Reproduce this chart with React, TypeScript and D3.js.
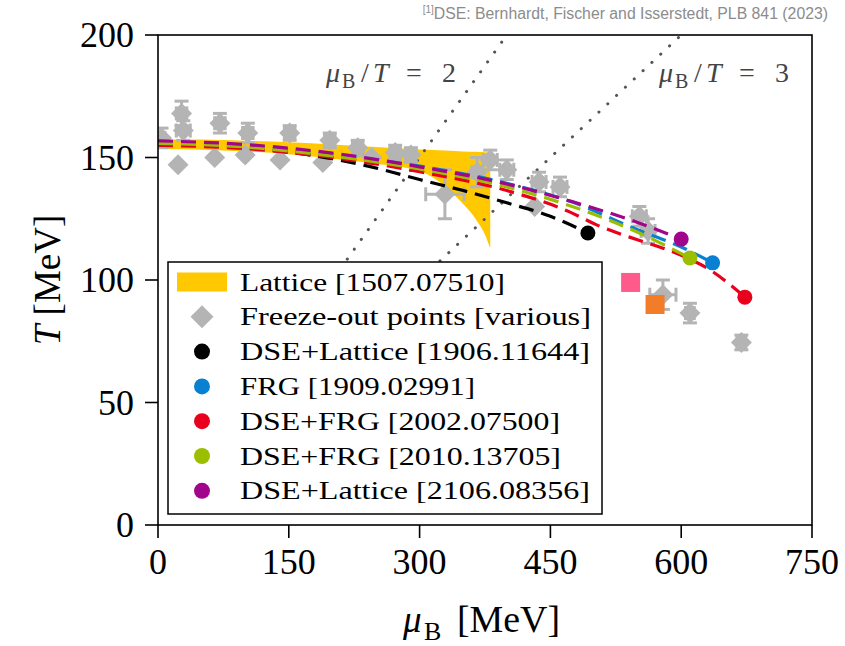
import React from "react";
import * as d3 from "d3";

const W = 845;
const H = 646;

const xTicks = [0, 150, 300, 450, 600, 750];
const yTicks = [0, 50, 100, 150, 200];

// Lattice band [1507.07510]
const latticeMu = [0, 50, 100, 150, 200, 250, 300, 330, 350, 365, 375, 381];
const latticeUpper = [157.5, 157.3, 156.8, 156.2, 155.3, 154.3, 153.3, 152.9, 152.5, 152.3, 152.1, 152];
const latticeLower = [153.5, 153.2, 152.5, 151.3, 149.5, 147.5, 144.5, 138, 131, 124.5, 118.5, 113];

// Crossover lines (dashed) and CEPs
const blackMu = [0, 100, 200, 258, 300, 350, 400, 450, 493];
const blackT = [155.5, 154, 149.5, 145, 141, 136.5, 131.5, 126, 119.2];
const blueMu = [0, 100, 200, 300, 400, 475, 550, 600, 636];
const blueT = [156.2, 154.8, 151.2, 146.5, 139.5, 131.8, 120.5, 113.5, 107];
const redMu = [0, 100, 200, 300, 400, 472, 503, 549, 579, 607, 630, 650, 673];
const redT = [155, 153.6, 150, 144.2, 136.5, 127.8, 122.5, 116.5, 113, 109, 104.8, 99.8, 93];
const greenMu = [0, 100, 200, 300, 400, 475, 550, 610];
const greenT = [155.8, 154.3, 150.6, 145.3, 138, 130, 119.5, 109];
const purpleMu = [0, 100, 200, 300, 400, 475, 550, 600];
const purpleT = [156.8, 155.3, 151.8, 146.2, 139.2, 132, 123.5, 116.7];

// Other CEP estimates (squares)
const pinkSquare = [542, 99];
const orangeSquare = [570, 90];

// Freeze-out points [various]
const foMu = [4, 27, 29, 23, 71, 65, 103, 100, 151, 140, 197, 189, 229, 245, 272, 290, 329, 366, 381, 400, 432, 437, 461, 552, 562, 579, 610, 669];
const foT = [158, 168, 161, 147, 164, 150, 160, 151, 160, 149, 157, 148, 154, 150, 152, 151, 135, 144, 149, 145, 130, 140, 138, 126, 120, 94, 86.5, 74.5];
const foMuErr = [4, 6, 8, 0, 6, 0, 6, 0, 6, 0, 6, 0, 6, 0, 6, 6, 22, 6, 8, 8, 0, 8, 8, 8, 8, 15, 5, 5];
const foTErr = [4, 5, 4, 0, 4, 0, 4, 0, 3, 0, 3, 0, 3, 0, 3, 3, 10, 6, 4, 4, 0, 4, 4, 4, 5, 6, 4, 3];

const legendLabels = [
  "Lattice [1507.07510]",
  "Freeze-out points [various]",
  "DSE+Lattice [1906.11644]",
  "FRG [1909.02991]",
  "DSE+FRG [2002.07500]",
  "DSE+FRG [2010.13705]",
  "DSE+Lattice [2106.08356]",
];
const legendWidths = [265, 351, 350, 235, 320, 321, 350];

const YELLOW = "#ffc800";
const GRAY = "#b4b4b4";
const COLORS = {
  black: "#000000",
  blue: "#0a80d2",
  red: "#e8001c",
  green: "#9cbe00",
  purple: "#a0058c",
};

export default function App() {
  const x = d3.scaleLinear().domain([0, 750]).range([158, 812]);
  const y = d3.scaleLinear().domain([0, 200]).range([525, 35]);

  const area = d3
    .area<number>()
    .x((_, i) => x(latticeMu[i]))
    .y0((_, i) => y(latticeLower[i]))
    .y1((_, i) => y(latticeUpper[i]))
    .curve(d3.curveMonotoneX);
  const bandPath = area(latticeMu) || "";

  const mkLine = (mu: number[], t: number[]) =>
    d3
      .line<number>()
      .x((d) => x(d))
      .y((_, i) => y(t[i]))
      .curve(d3.curveMonotoneX)(mu) || "";

  const series = [
    { mu: blackMu, t: blackT, c: COLORS.black },
    { mu: blueMu, t: blueT, c: COLORS.blue },
    { mu: redMu, t: redT, c: COLORS.red },
    { mu: greenMu, t: greenT, c: COLORS.green },
    { mu: purpleMu, t: purpleT, c: COLORS.purple },
  ];

  const diamond = (cx: number, cy: number, r: number) =>
    `M${cx},${cy - r}L${cx + r},${cy}L${cx},${cy + r}L${cx - r},${cy}Z`;

  const serif = "'Liberation Serif', 'DejaVu Serif', serif";
  const cap = 7;

  const legendX = 168;
  const legendY = 262;
  const rowY = (i: number) => 282 + i * 34.8;

  const ratioLabel = (x0: number, n: string) => (
    <g fill="#444" fontSize={28}>
      <text x={x0} y={82} fontStyle="italic">μ</text>
      <text x={x0 + 16} y={88} fontSize={20}>B</text>
      <text x={x0 + 35} y={82}>/</text>
      <text x={x0 + 47} y={82} fontStyle="italic">T</text>
      <text x={x0 + 80} y={82}>=</text>
      <text x={x0 + 116} y={82}>{n}</text>
    </g>
  );

  return (
    <svg
      width={W}
      height={H}
      style={{ position: "absolute", left: 0, top: 0, background: "#fff" }}
      fontFamily={serif}
    >
      <defs>
        <clipPath id="plotclip">
          <rect x={158} y={35} width={654} height={490} />
        </clipPath>
      </defs>
      <rect x={0} y={0} width={W} height={H} fill="#fff" />

      {/* header */}
      <text
        x={828}
        y={19}
        textAnchor="end"
        fontFamily="'Liberation Sans', Arial, sans-serif"
        fontSize={15.8}
        fill="#8c8c8c"
      >
        <tspan fontSize={10} dy={-6}>[1]</tspan>
        <tspan dy={6}>DSE: Bernhardt, Fischer and Isserstedt, PLB 841 (2023)</tspan>
      </text>

      <g clipPath="url(#plotclip)">
        {/* lattice band */}
        <path d={bandPath} fill={YELLOW} stroke="none" />

        {/* mu/T = const lines */}
        {[2, 3].map((r) => (
          <line
            key={r}
            x1={x(20 * r)}
            y1={y(20)}
            x2={x(200 * r)}
            y2={y(200)}
            stroke="#555"
            strokeWidth={3}
            strokeDasharray="0.1 12"
            strokeLinecap="round"
          />
        ))}

        {/* freeze-out points */}
        {foMu.map((m, i) => {
          const cx = x(m);
          const cy = y(foT[i]);
          const ex = foMuErr[i];
          const et = foTErr[i];
          return (
            <g key={i} stroke={GRAY} strokeWidth={3} fill={GRAY}>
              {ex > 0 && (
                <>
                  <line x1={x(m - ex)} x2={x(m + ex)} y1={cy} y2={cy} />
                  <line x1={x(m - ex)} x2={x(m - ex)} y1={cy - cap} y2={cy + cap} />
                  <line x1={x(m + ex)} x2={x(m + ex)} y1={cy - cap} y2={cy + cap} />
                </>
              )}
              {et > 0 && (
                <>
                  <line x1={cx} x2={cx} y1={y(foT[i] - et)} y2={y(foT[i] + et)} />
                  <line x1={cx - cap} x2={cx + cap} y1={y(foT[i] - et)} y2={y(foT[i] - et)} />
                  <line x1={cx - cap} x2={cx + cap} y1={y(foT[i] + et)} y2={y(foT[i] + et)} />
                </>
              )}
              <path d={diamond(cx, cy, 10.5)} stroke="none" />
            </g>
          );
        })}

        {/* dashed crossover lines */}
        {series.map((s, i) => (
          <path
            key={i}
            d={mkLine(s.mu, s.t)}
            fill="none"
            stroke={s.c}
            strokeWidth={3.2}
            strokeDasharray="15 8"
          />
        ))}

        {/* squares */}
        <rect x={x(pinkSquare[0]) - 9.5} y={y(pinkSquare[1]) - 9.5} width={19} height={19} fill="#ff5a8c" />
        <rect x={x(orangeSquare[0]) - 9.5} y={y(orangeSquare[1]) - 9.5} width={19} height={19} fill="#f27d28" />

        {/* CEP dots */}
        {series.map((s, i) => (
          <circle
            key={i}
            cx={x(s.mu[s.mu.length - 1])}
            cy={y(s.t[s.t.length - 1])}
            r={7.5}
            fill={s.c}
          />
        ))}
      </g>

      {/* mu/T labels */}
      {ratioLabel(326, "2")}
      {ratioLabel(659, "3")}

      {/* axes frame */}
      <rect x={158} y={35} width={654} height={490} fill="none" stroke="#000" strokeWidth={1.6} />

      {/* x ticks */}
      {xTicks.map((t) => (
        <g key={t}>
          <line x1={x(t)} x2={x(t)} y1={525} y2={538} stroke="#000" strokeWidth={1.6} />
          <text x={x(t)} y={574} textAnchor="middle" fontSize={36}>
            {t}
          </text>
        </g>
      ))}
      {/* y ticks */}
      {yTicks.map((t) => (
        <g key={t}>
          <line x1={145} x2={158} y1={y(t)} y2={y(t)} stroke="#000" strokeWidth={1.6} />
          <text x={134} y={y(t) + 12} textAnchor="end" fontSize={36}>
            {t}
          </text>
        </g>
      ))}

      {/* axis labels */}
      <g fontSize={37}>
        <text x={403} y={632} fontStyle="italic">μ</text>
        <text x={424} y={640} fontSize={26}>B</text>
        <text x={457} y={632} textLength={103} lengthAdjust="spacingAndGlyphs">[MeV]</text>
      </g>
      <text
        transform={`translate(60,280) rotate(-90)`}
        textAnchor="middle"
        fontSize={37}
      >
        <tspan fontStyle="italic">T</tspan>
        <tspan> [MeV]</tspan>
      </text>

      {/* legend */}
      <rect x={legendX} y={legendY} width={434} height={252} fill="#fff" stroke="#000" strokeWidth={1.5} />
      <rect x={177} y={rowY(0) - 9.5} width={50} height={19} fill={YELLOW} />
      <path d={diamond(202, rowY(1), 11.5)} fill={GRAY} />
      {series.map((s, i) => (
        <circle key={i} cx={202} cy={rowY(i + 2)} r={8} fill={s.c} />
      ))}
      {legendLabels.map((l, i) => (
        <text
          key={i}
          x={240}
          y={rowY(i) + 8.5}
          fontSize={26}
          textLength={legendWidths[i]}
          lengthAdjust="spacingAndGlyphs"
        >
          {l}
        </text>
      ))}
    </svg>
  );
}
